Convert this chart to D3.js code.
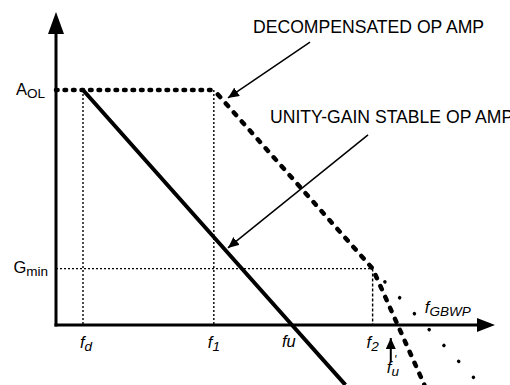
<!DOCTYPE html>
<html>
<head>
<meta charset="utf-8">
<script src="https://cdn.jsdelivr.net/npm/d3@7"></script>
<style>
    body { margin: 0; background: #fff; }
    text { font-family: "Liberation Sans", Arial, sans-serif; fill: #000; }
</style>
</head>
<body>
<div id="chart"></div>
<script>

var svgWidth = 510;
var svgHeight = 385;

// gain levels (dB)
var aolDb = 100;
var gminDb = 24;

// marked frequencies (Hz, log axis)
var markerNames = ["fd", "f1", "fu", "f2"];
var markerFreqs = [10, 1.35e4, 1e6, 8.5e7];
var fuPrime = 3.4e8;
var fGbwp = 1.35e9;

// unity-gain stable op amp
var unityFreqs = [10, 1e6, 1.9e7];
var unityDb = [100, 0, -25.5];

// decompensated op amp
var decompFreqs = [2.26, 1.35e4, 8.5e7, 1.47e9];
var decompDb = [100, 100, 24, -25.5];

// extrapolated -20dB/dec line to fGBWP
var gbwpFreqs = [8.5e7, 2.4e10];
var gbwpDb = [24, -23];

// annotation arrows: tip and tail in data units
var noteText = ["DECOMPENSATED OP AMP", "UNITY-GAIN STABLE OP AMP"];
var noteTipFreq = [2.94e4, 2.94e4];
var noteTipDb = [96.6, 32.8];
var noteTailFreq = [2.7e6, 6.6e7];
var noteTailDb = [120.4, 80.9];

var svg = d3.select("#chart")
    .append("svg")
    .attr("width", svgWidth)
    .attr("height", svgHeight);

var xScale = d3.scaleLog().domain([2.26, 7.2e10]).range([56, 495]);
var yScale = d3.scaleLinear().domain([0, 100]).range([325, 90]);

var x0 = xScale.range()[0];
var xEnd = xScale.range()[1];
var y0 = yScale(0);
var yTop = 12;

var defs = svg.append("defs");
defs.append("marker")
    .attr("id", "head")
    .attr("markerUnits", "userSpaceOnUse")
    .attr("markerWidth", 12).attr("markerHeight", 10)
    .attr("refX", 11).attr("refY", 5)
    .attr("orient", "auto")
    .append("path").attr("d", "M0,0 L11,5 L0,10 Z").attr("fill", "#000");

var line = d3.line().x(d => xScale(d[0])).y(d => yScale(d[1]));

// thin guide lines
var fd = markerFreqs[0], f1 = markerFreqs[1], f2 = markerFreqs[3];
var guides = [
    [[fd, aolDb], [fd, 0], "2,2"],
    [[f1, aolDb], [f1, 0], "2,2"],
    [[xScale.invert(x0), gminDb], [f2, gminDb], "2,2"],
    [[f2, gminDb], [f2, 0], "3,2"]
];
svg.selectAll(".guide").data(guides).enter()
    .append("path")
    .attr("class", "guide")
    .attr("d", d => line([d[0], d[1]]))
    .attr("stroke", "#000").attr("stroke-width", 1.4)
    .attr("stroke-dasharray", d => d[2])
    .attr("fill", "none");

// axes
svg.append("line")
    .attr("x1", x0).attr("y1", y0 + 1.5).attr("x2", x0).attr("y2", yTop + 18)
    .attr("stroke", "#000").attr("stroke-width", 3);
svg.append("line")
    .attr("x1", x0 - 1.5).attr("y1", y0).attr("x2", xEnd - 14).attr("y2", y0)
    .attr("stroke", "#000").attr("stroke-width", 3);
svg.append("path")
    .attr("d", `M${x0},${yTop} L${x0 - 8},${yTop + 22} L${x0 + 8},${yTop + 22} Z`)
    .attr("fill", "#000");
svg.append("path")
    .attr("d", `M${xEnd},${y0} L${xEnd - 18},${y0 - 7} L${xEnd - 18},${y0 + 7} Z`)
    .attr("fill", "#000");

// gbwp dotted extension
svg.append("path")
    .attr("d", line(d3.zip(gbwpFreqs, gbwpDb)))
    .attr("stroke", "#000").attr("stroke-width", 3.5)
    .attr("stroke-linecap", "round")
    .attr("stroke-dasharray", "0.1,21.6")
    .attr("stroke-dashoffset", 3.7)
    .attr("fill", "none");

// unity-gain line
svg.append("path")
    .attr("d", line(d3.zip(unityFreqs, unityDb)))
    .attr("stroke", "#000").attr("stroke-width", 4)
    .attr("fill", "none");

// decompensated: flat part then roll-off
var decompPts = d3.zip(decompFreqs, decompDb);
svg.append("path")
    .attr("d", line(decompPts.slice(0, 2)))
    .attr("stroke", "#000").attr("stroke-width", 4.5)
    .attr("stroke-linecap", "round")
    .attr("stroke-dasharray", "1.6,6.9")
    .attr("fill", "none");
svg.append("path")
    .attr("d", line(decompPts.slice(1)))
    .attr("stroke", "#000").attr("stroke-width", 4.5)
    .attr("stroke-linecap", "round")
    .attr("stroke-dasharray", "3.5,8.5")
    .attr("stroke-dashoffset", -6)
    .attr("fill", "none");

// annotations
noteText.forEach(function (t, i) {
    var tx = xScale(noteTipFreq[i]), ty = yScale(noteTipDb[i]);
    var sx = xScale(noteTailFreq[i]), sy = yScale(noteTailDb[i]);
    svg.append("line")
        .attr("x1", sx).attr("y1", sy).attr("x2", tx).attr("y2", ty)
        .attr("stroke", "#000").attr("stroke-width", 1.5)
        .attr("marker-end", "url(#head)");
    svg.append("text")
        .attr("x", i == 0 ? sx - 57 : sx - 98)
        .attr("y", i == 0 ? sy - 9 : sy - 12)
        .attr("font-size", 17.6)
        .text(t);
});

// labels with subscripts
function subLabel(x, y, main, sub, anchor, italic) {
    var t = svg.append("text")
        .attr("x", x).attr("y", y)
        .attr("font-size", 16.5)
        .attr("text-anchor", anchor)
        .attr("font-style", italic ? "italic" : "normal");
    t.append("tspan").text(main);
    if (sub) t.append("tspan").attr("font-size", 13.5).attr("dy", 3).text(sub);
    return t;
}
subLabel(x0 - 11, yScale(aolDb) + 5, "A", "OL", "end", false);
subLabel(x0 - 8, yScale(gminDb) + 4, "G", "min", "end", false);

// frequency labels
var labelOffset = [-3, -6, -10, -6];
markerNames.forEach(function (n, i) {
    var lx = xScale(markerFreqs[i]) + labelOffset[i];
    if (n == "fu") subLabel(lx, 347, "fu", null, "start", true);
    else subLabel(lx, 348, "f", n.slice(1), "start", true);
});

// fu' with arrow
var ux = xScale(fuPrime) - 7;
svg.append("line")
    .attr("x1", ux).attr("y1", 362).attr("x2", ux).attr("y2", 338)
    .attr("stroke", "#000").attr("stroke-width", 2)
    .attr("marker-end", "url(#head)");
var fup = subLabel(ux - 4, 373, "f", "u", "start", true);
fup.append("tspan").attr("font-size", 12).attr("dy", -12).attr("dx", -5).text("'");

subLabel(xScale(fGbwp) + 2, 313, "f", "GBWP", "start", true);

</script>
</body>
</html>
